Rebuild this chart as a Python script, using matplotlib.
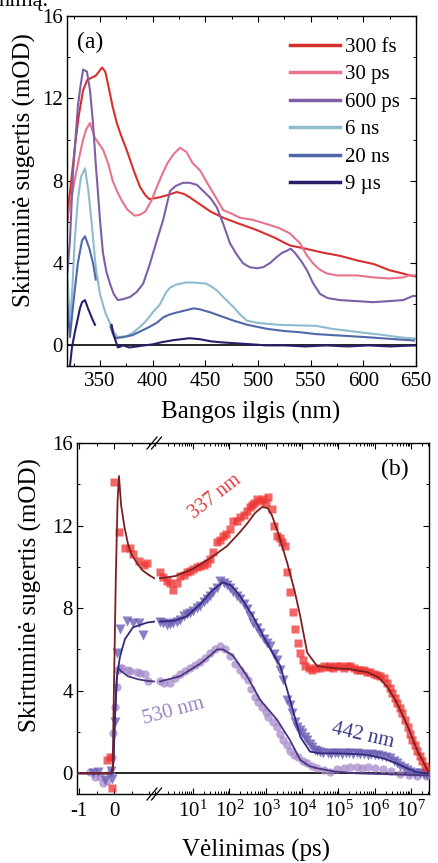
import matplotlib
matplotlib.use('Agg')

import numpy as np
import matplotlib.pyplot as plt
from matplotlib.ticker import MultipleLocator, FixedLocator, LogLocator, LogFormatterMathtext, NullFormatter

nan = np.nan

# ---------------- panel (a): spectra ----------------
wl_300fs = [319, 321, 324, 327, 330, 334, 338, 342, 346, 349, 352, 355, 358, 362, 366,
            370, 376, 382, 388, 393, 397, 402, 407, 414, 423, 430, 435, 445, 455, 467,
            480, 499, 515, 530, 545, 562, 578, 594, 610, 625, 637, 644, 650]
od_300fs = [6.0, 7.2, 8.6, 10.0, 11.2, 12.4, 12.9, 13.0, 13.1, 13.3, 13.5, 13.3, 12.6, 11.6, 10.8,
            10.2, 9.4, 8.5, 7.7, 7.3, 7.1, 7.15, 7.2, 7.3, 7.45, 7.35, 7.2, 6.85, 6.5, 6.2,
            5.95, 5.6, 5.25, 4.86, 4.7, 4.5, 4.35, 4.13, 3.95, 3.65, 3.5, 3.4, 3.35]

wl_30ps = [319, 323, 327, 331, 334, 337, 340.5, 345, 349, 353, 358, 362, 367, 371, 376,
           383, 388, 393, 399, 404, 409, 414, 420, 426, 432, 438, 445, 454, 461, 467,
           475, 483, 495, 508, 520, 530, 540, 546, 552, 558, 565, 575, 594, 610, 625,
           637, 644, 650]
od_30ps = [6.2, 7.2, 8.3, 9.3, 10.0, 10.5, 10.8, 10.1, 9.8, 9.5, 8.8, 8.0, 7.4, 7.0, 6.6,
           6.3, 6.35, 6.5, 7.05, 7.7, 8.3, 8.85, 9.3, 9.6, 9.4, 8.85, 8.5, 7.7, 7.1, 6.57,
           6.4, 6.2, 6.1, 5.9, 5.7, 5.45, 4.96, 4.4, 4.0, 3.7, 3.5, 3.4, 3.4, 3.3, 3.25,
           3.3, 3.4, 3.4]

wl_600ps = [319, 321.5, 324.4, 327, 329, 331.5, 334, 337.6, 340.5, 343.4, 346, 348, 350, 352.8, 356,
            359.5, 363, 367, 372, 378.5, 385, 391, 397, 404, 410, 416.5, 422, 429, 435, 442,
            448, 455, 461, 467, 473.4, 480, 485.8, 492, 499, 505, 511.4, 518, 523, 527.5, 531,
            535, 541, 546.5, 552, 558.9, 566, 578, 594, 609, 624, 637.7, 647, 650]
od_600ps = [3.5, 5.1, 8.4, 10.2, 11.6, 12.6, 13.4, 13.3, 12.4, 10.8, 8.8, 7.5, 6.1, 4.5, 3.6,
            3.0, 2.5, 2.2, 2.25, 2.35, 2.6, 3.0, 3.9, 5.1, 6.1, 7.5, 7.75, 7.9, 7.9, 7.8,
            7.5, 7.15, 6.7, 5.9, 4.96, 4.4, 3.99, 3.8, 3.75, 3.8, 4.0, 4.3, 4.5, 4.6, 4.7,
            4.5, 4.1, 3.65, 3.05, 2.5, 2.3, 2.2, 2.15, 2.1, 2.15, 2.2, 2.4, 2.4]

wl_6ns = [319, 321.5, 324, 326, 329, 332, 335.8, 339, 342, 346, 350, 355, 359.5, 362.3, 367,
          375, 381, 388, 394, 400, 407, 413, 416.5, 422, 432, 440, 451, 456, 461, 468,
          477, 483, 489.6, 499, 508.5, 520, 540, 555, 571, 587, 603, 620, 634, 649]
od_6ns = [3.5, 1.0, 3.0, 5.1, 7.05, 8.2, 8.6, 7.5, 6.0, 3.8, 2.5, 1.6, 1.07, 0.7, 0.4,
          0.45, 0.6, 0.9, 1.2, 1.6, 2.0, 2.6, 2.8, 2.95, 3.06, 3.05, 3.0, 2.85, 2.67, 2.3,
          1.85, 1.5, 1.2, 1.1, 1.05, 1.0, 0.97, 0.95, 0.8, 0.7, 0.6, 0.5, 0.4, 0.33]

wl_20ns = [319, 321.5, 325, 329, 333, 335.8, 340, 343.4, 346, nan, 360, 362, 365, 372, 381,
           389, 397, 404, 410, 416, 423, 431, 439, 445, 455, 466, 477, 490, 509, 525,
           540, 555, 571, 587, 603, 625, 648]
od_20ns = [2.0, 0.4, 2.2, 4.0, 5.1, 5.3, 4.7, 4.0, 3.2, nan, 0.9, 0.6, 0.35, 0.4, 0.5,
           0.7, 0.9, 1.1, 1.36, 1.5, 1.6, 1.7, 1.8, 1.75, 1.6, 1.4, 1.2, 1.0, 0.8, 0.7,
           0.64, 0.55, 0.5, 0.45, 0.4, 0.32, 0.24]

wl_9us = [319, 321.5, 323.4, 326, 328, 331, 333, 335.8, 338.6, 341, 343.4, 345.3, nan, 361, 363,
          367, 372, 378, 385, 392, 400, 408, 419, 427, 435, 445, 455, 465, 480, 495,
          508, 525, 545, 565, 585, 605, 625, 650]
od_9us = [-1.5, -1.0, -0.1, 0.6, 1.07, 1.8, 2.1, 2.2, 1.8, 1.5, 1.2, 1.0, nan, 1.0, 0.5,
          -0.1, 0.0, -0.1, -0.05, 0.0, 0.05, 0.15, 0.25, 0.3, 0.35, 0.3, 0.2, 0.15, 0.1, 0.05,
          0.0, 0.0, -0.05, 0.0, -0.05, 0.0, -0.05, 0.0]

spectra = [
    ('300 fs', wl_300fs, od_300fs, '#d7302c'),
    ('30 ps', wl_30ps, od_30ps, '#e8738c'),
    ('600 ps', wl_600ps, od_600ps, '#7d5fa8'),
    ('6 ns', wl_6ns, od_6ns, '#8fbccc'),
    ('20 ns', wl_20ns, od_20ns, '#5168a8'),
    ('9 \u00b5s', wl_9us, od_9us, '#2c1d6b'),
]

# ---------------- panel (b): kinetics ----------------
# early times (linear part, ps)
t337_early = [-0.2, -0.12, -0.05, 0.0, 0.15, 0.3, 0.45, 0.55, 0.7, 0.85, 0.95]
s337_early = [0.65, 0.8, -0.7, 14.1, 11.7, 10.9, 10.9, 10.6, 10.3, 10.1, 10.2]
t442_early = [-0.6, -0.45, -0.26, -0.1, -0.06, 0.03, 0.09, 0.17, 0.37, 0.54, 0.7, 0.83]
s442_early = [0.0, 0.05, -0.3, 0.1, -0.25, 2.5, 5.85, 7.0, 7.4, 7.3, 7.3, 6.7]
t530_early = [-0.69, -0.54, -0.4, -0.31, -0.2, -0.11, -0.06, -0.03, 0.03, 0.08,
              0.11, 0.17, 0.23, 0.4, 0.46, 0.66, 0.74, 0.89, 0.97]
s530_early = [0.05, -0.2, -0.2, -0.45, -0.35, 0.0, 0.8, 1.95, 3.2, 4.2,
              5.0, 5.1, 5.1, 5.0, 4.95, 4.9, 4.87, 4.8, 4.45]

# late times (log part, log10 of delay in ps)
lg337 = [0.09, 0.17, 0.28, 0.37, 0.45, 0.55, 0.64, 0.74, 0.83, 0.92,
         1.0, 1.1, 1.19, 1.29, 1.39, 1.47, 1.55, 1.66, 1.75, 1.83,
         1.92, 2.02, 2.1, 2.2, 2.29, 2.39, 2.49, 2.56, 2.62, 2.69,
         2.76, 2.85, 2.93, 3.0, 3.07, 3.17, 3.24, 3.31, 3.38, 3.45,
         3.53, 3.59, 3.67, 3.74, 3.81, 3.89, 3.95, 4.02, 4.09, 4.18,
         4.28, 4.38, 4.5, 4.6, 4.7, 4.77, 4.86, 4.95, 5.05, 5.15,
         5.24, 5.33, 5.42, 5.5, 5.6, 5.7, 5.79, 5.88, 5.97, 6.06,
         6.15, 6.25, 6.34, 6.41, 6.48, 6.55, 6.62, 6.69, 6.76, 6.83,
         6.9, 6.97, 7.03, 7.1, 7.17, 7.24, 7.31, 7.38, 7.45]
s337 = [9.75, 9.5, 9.3, 9.2, 8.9, 9.2, 9.55, 9.6, 9.75, 9.8,
        9.9, 10.0, 10.05, 10.1, 10.2, 10.4, 10.7, 11.2, 11.3, 11.5,
        11.6, 11.85, 12.2, 12.2, 12.4, 12.5, 12.7, 12.9, 13.0, 13.1,
        13.3, 13.2, 13.3, 13.1, 13.4, 12.8, 12.0, 11.5, 11.4, 11.2,
        11.0, 9.75, 8.8, 7.8, 7.0, 6.3, 5.85, 5.5, 5.2, 5.1,
        5.0, 5.1, 5.1, 5.2, 5.15, 5.2, 5.1, 5.2, 5.2, 5.1,
        5.2, 5.2, 5.1, 5.0, 5.0, 5.0, 4.9, 4.9, 4.8, 4.75,
        4.7, 4.6, 4.4, 4.15, 3.9, 3.65, 3.4, 3.15, 2.9, 2.6,
        2.25, 1.9, 1.6, 1.35, 1.1, 0.85, 0.6, 0.35, 0.15]

lg442 = [0.09, 0.18, 0.28, 0.37, 0.45, 0.55, 0.64, 0.74, 0.83, 0.92,
         1.0, 1.1, 1.19, 1.29, 1.39, 1.47, 1.55, 1.65, 1.74, 1.84,
         1.94, 2.02, 2.1, 2.2, 2.29, 2.39, 2.49, 2.57, 2.65, 2.75,
         2.85, 2.95, 3.04, 3.12, 3.22, 3.31, 3.4, 3.48, 3.59, 3.66,
         3.73, 3.8, 3.86, 3.93, 4.0, 4.07, 4.14, 4.21, 4.28, 4.35,
         4.41, 4.5, 4.58, 4.7, 4.8, 4.9, 5.0, 5.1, 5.2, 5.3,
         5.4, 5.5, 5.6, 5.7, 5.8, 5.9, 6.0, 6.1, 6.2, 6.3,
         6.43, 6.52, 6.62, 6.7, 6.79, 6.88, 6.98, 7.1, 7.25, 7.35,
         7.45]
s442 = [7.35, 7.3, 7.2, 7.25, 7.3, 7.35, 7.45, 7.6, 7.7, 7.75,
        7.85, 8.0, 8.1, 8.3, 8.45, 8.6, 8.8, 9.0, 9.3, 9.2,
        9.1, 9.0, 8.8, 8.6, 8.45, 8.2, 7.95, 7.6, 7.3, 7.05,
        6.8, 6.5, 6.3, 6.15, 5.8, 5.5, 5.0, 4.5, 3.55, 3.3,
        2.9, 2.5, 2.25, 2.1, 1.95, 1.75, 1.6, 1.4, 1.27, 1.15,
        1.1, 1.05, 1.0, 1.0, 0.95, 1.0, 1.0, 0.95, 1.0, 1.0,
        0.95, 1.0, 0.95, 0.95, 0.9, 0.95, 0.9, 0.9, 0.85, 0.8,
        0.73, 0.6, 0.5, 0.35, 0.25, 0.15, 0.05, 0.0, 0.0, -0.05,
        -0.1]

lg530 = [0.09, 0.2, 0.37, 0.5, 0.64, 0.78, 0.92, 1.05, 1.19, 1.33,
         1.47, 1.6, 1.74, 1.88, 2.02, 2.15, 2.29, 2.4, 2.5, 2.6,
         2.71, 2.8, 2.9, 3.0, 3.07, 3.2, 3.31, 3.4, 3.48, 3.58,
         3.67, 3.78, 3.9, 4.02, 4.14, 4.28, 4.41, 4.6, 4.77, 4.95,
         5.15, 5.33, 5.5, 5.65, 5.8, 6.0, 6.23, 6.45, 6.7, 6.95,
         7.17, 7.4]
s530 = [4.45, 4.4, 4.4, 4.6, 4.8, 4.95, 5.1, 5.25, 5.4, 5.6,
        5.85, 6.0, 6.15, 6.0, 5.66, 5.3, 5.0, 4.75, 4.5, 4.1,
        3.7, 3.45, 3.2, 2.95, 2.75, 2.5, 2.25, 1.9, 1.6, 1.35,
        1.1, 0.9, 0.78, 0.6, 0.5, 0.35, 0.24, 0.15, 0.07, 0.2,
        0.25, 0.3, 0.3, 0.25, 0.3, 0.25, 0.2, 0.1, -0.05, -0.1,
        -0.15, -0.15]

# fitted curves
tf337_early = [-1.06, -0.08, -0.04, 0.0, 0.05, 0.1, 0.14, 0.2, 0.3, 0.4, 0.5, 0.65, 0.8, 1.0, 1.15]
f337_early = [0, 0, 0.3, 4.5, 9.5, 13.2, 14.4, 13.0, 11.9, 11.1, 10.6, 10.2, 9.85, 9.6, 9.45]
lgf337 = [0.09, 0.5, 1.0, 1.5, 1.93, 2.25, 2.49, 2.7, 2.9, 3.05, 3.17, 3.35, 3.59, 3.8,
          3.95, 4.14, 4.41, 4.86, 5.3, 5.79, 6.1, 6.34, 6.55, 6.7, 6.9, 7.17, 7.47]
f337 = [9.45, 9.55, 9.9, 10.45, 11.0, 11.6, 12.1, 12.6, 12.9, 12.85, 12.5, 11.6, 10.2, 8.8,
        7.6, 5.85, 5.2, 5.1, 5.05, 4.9, 4.65, 4.2, 3.6, 3.07, 2.3, 1.1, 0.1]

tf442_early = [-1.06, -0.05, -0.02, 0.03, 0.08, 0.17, 0.31, 0.54, 0.94, 1.15]
f442_early = [0, 0, 0.5, 3.0, 4.7, 5.66, 6.5, 7.07, 7.3, 7.35]
lgf442 = [0.09, 0.5, 0.83, 1.2, 1.5, 1.8, 2.05, 2.29, 2.65, 3.04, 3.4, 3.67,
          3.95, 4.22, 4.5, 4.86, 5.3, 5.79, 6.23, 6.5, 6.7, 6.95, 7.17, 7.47]
f442 = [7.35, 7.4, 7.6, 8.2, 8.8, 9.25, 9.1, 8.6, 7.6, 6.3, 5.2, 3.55,
        1.77, 1.05, 0.97, 0.97, 0.95, 0.9, 0.73, 0.55, 0.4, 0.2, 0.05, 0.0]

tf530_early = [-1.06, -0.05, -0.02, 0.03, 0.08, 0.12, 0.2, 0.4, 0.7, 0.95, 1.15]
f530_early = [0, 0, 0.6, 2.8, 4.6, 5.1, 4.95, 4.7, 4.55, 4.48, 4.45]
lgf530 = [0.09, 0.64, 1.19, 1.5, 1.66, 1.83, 2.1, 2.49, 2.85, 3.31, 3.67, 3.95,
          4.2, 4.41, 4.86, 5.5, 6.5, 7.47]
f530 = [4.45, 4.7, 5.3, 5.75, 6.0, 6.0, 5.7, 4.7, 3.55, 2.6, 1.6, 0.65,
        0.35, 0.25, 0.1, 0.0, -0.05, -0.1]

# ---------------- style ----------------
plt.rcParams.update({
    'font.family': 'Liberation Serif',
    'mathtext.fontset': 'custom',
    'mathtext.rm': 'Liberation Serif',
    'mathtext.default': 'regular',
    'axes.unicode_minus': False,
    'axes.linewidth': 1.0,
    'xtick.direction': 'in',
    'ytick.direction': 'in',
    'xtick.major.size': 4.5, 'ytick.major.size': 4.5,
    'xtick.minor.size': 2.5, 'ytick.minor.size': 2.5,
    'xtick.major.width': 0.8, 'ytick.major.width': 0.8,
    'xtick.minor.width': 0.7, 'ytick.minor.width': 0.7,
    'xtick.labelsize': 15, 'ytick.labelsize': 15,
})

W, H = 438, 863
fig = plt.figure(figsize=(W / 100, H / 100), dpi=100)


def box(l, t, r, b):
    return [l / W, 1 - b / H, (r - l) / W, (b - t) / H]


# ===== panel (a) =====
ax = fig.add_axes(box(67, 16, 416, 366))
ax.axhline(0, color='black', lw=1.2, zorder=1)
for label, wl, od, c in spectra:
    ax.plot(wl, od, color=c, lw=1.5, label=label, zorder=2)
ax.set_xlim(318.7, 650)
ax.set_ylim(-1, 16)
ax.xaxis.set_major_locator(MultipleLocator(50))
ax.xaxis.set_minor_locator(MultipleLocator(25))
ax.yaxis.set_major_locator(MultipleLocator(4))
ax.yaxis.set_minor_locator(MultipleLocator(2))
ax.tick_params(which='both', top=True, right=True)
ax.tick_params(axis='x', pad=4)
ax.tick_params(axis='y', pad=3)
leg = ax.legend(loc='upper right', frameon=False, fontsize=15, handlelength=2.4,
                handletextpad=0.25, labelspacing=0.38, borderaxespad=0.2,
                bbox_to_anchor=(0.99, 0.975))
for h in leg.get_lines():
    h.set_linewidth(2.5)
ax.text(0.03, 0.955, '(a)', transform=ax.transAxes, fontsize=17, va='top', ha='left')

# ===== panel (b) =====
ax_lin = fig.add_axes(box(77, 443, 155, 794))
ax_log = fig.add_axes(box(155, 443, 429, 794))

for a in (ax_lin, ax_log):
    a.axhline(0, color='black', lw=1.2, zorder=1)
    a.set_ylim(-1, 16)
    a.yaxis.set_major_locator(MultipleLocator(4))
    a.yaxis.set_minor_locator(MultipleLocator(2))

ms = 6
ax_lin.plot(t530_early, s530_early, 'o', ms=ms, color='#a68acb', alpha=0.75, mec='none', zorder=3)
ax_lin.plot(t442_early, s442_early, 'v', ms=ms + 1, color='#6c5fb5', alpha=0.8, mec='none', zorder=3)
ax_lin.plot(t337_early, s337_early, 's', ms=ms - 0.5, color='#ee3333', alpha=0.75, mec='none', zorder=3)
ax_lin.plot(tf530_early, f530_early, color='#4b3580', lw=1.3, zorder=4)
ax_lin.plot(tf442_early, f442_early, color='#2e2a7e', lw=1.3, zorder=4)
ax_lin.plot(tf337_early, f337_early, color='#7b1f1f', lw=1.3, zorder=4)

ax_log.plot(10 ** np.array(lg530), s530, 'o', ms=ms, color='#a68acb', alpha=0.75, mec='none', zorder=3)
ax_log.plot(10 ** np.array(lg442), s442, 'v', ms=ms + 1, color='#6c5fb5', alpha=0.8, mec='none', zorder=3)
ax_log.plot(10 ** np.array(lg337), s337, 's', ms=ms - 0.5, color='#ee3333', alpha=0.75, mec='none', zorder=3)
ax_log.plot(10 ** np.array(lgf530), f530, color='#4b3580', lw=1.3, zorder=4)
ax_log.plot(10 ** np.array(lgf442), f442, color='#2e2a7e', lw=1.3, zorder=4)
ax_log.plot(10 ** np.array(lgf337), f337, color='#7b1f1f', lw=1.3, zorder=4)

ax_lin.set_xlim(-1.06, 1.17)
ax_lin.xaxis.set_major_locator(FixedLocator([-1, 0]))
ax_lin.xaxis.set_minor_locator(FixedLocator([-0.5, 0.5, 1.0]))
ax_lin.spines['right'].set_visible(False)
ax_lin.tick_params(which='both', top=True, right=False)
ax_lin.tick_params(axis='x', pad=6)
ax_lin.tick_params(axis='y', pad=3)

ax_log.set_xscale('log')
ax_log.set_xlim(0.9, 3.1e7)
ax_log.xaxis.set_major_locator(FixedLocator([1e1, 1e2, 1e3, 1e4, 1e5, 1e6, 1e7]))
ax_log.xaxis.set_major_formatter(LogFormatterMathtext())
ax_log.xaxis.set_minor_locator(LogLocator(base=10, subs=np.arange(2, 10), numticks=20))
ax_log.xaxis.set_minor_formatter(NullFormatter())
ax_log.spines['left'].set_visible(False)
ax_log.tick_params(which='both', top=True, right=True, left=False)
ax_log.tick_params(axis='y', labelleft=False)
ax_log.tick_params(axis='x', pad=5)

ax_log.text(0.925, 0.955, '(b)', transform=ax_log.transAxes, fontsize=17, va='top', ha='right')
ax_log.text(40, 13.4, '337 nm', color='#e5383b', fontsize=14.5, rotation=38,
            ha='center', va='center')
ax_log.text(2.8, 3.0, '530 nm', color='#9b84c4', fontsize=15, rotation=15,
            ha='center', va='center')
ax_log.text(4.8e5, 1.8, '442 nm', color='#3b3a8c', fontsize=15, rotation=-13,
            ha='center', va='center')

# axis break marks
for y0 in (443, 794):
    for dx in (0, 4.5):
        fig.add_artist(plt.Line2D([(147 + dx) / W, (157 + dx) / W],
                                  [1 - (y0 + 6) / H, 1 - (y0 - 6) / H],
                                  color='black', lw=0.9))

# axis labels
fig.text(24 / W, 1 - 170 / H, 'Skirtuminė sugertis (mOD)', rotation=90,
         ha='center', va='center', fontsize=18)
fig.text(30 / W, 1 - 595 / H, 'Skirtuminė sugertis (mOD)', rotation=90,
         ha='center', va='center', fontsize=18)
fig.text(251 / W, 1 - 412 / H, 'Bangos ilgis (nm)', ha='center', va='center', fontsize=18)
fig.text(256 / W, 1 - 850 / H, 'Vėlinimas (ps)', ha='center', va='center', fontsize=18)

# cropped line of page text above the figure (cut off in the reference as well)
fig.text(-2 / W, 1 - 6 / H, 'nimą.', ha='left', va='baseline', fontsize=16)

fig.savefig('out.png', dpi=100)
